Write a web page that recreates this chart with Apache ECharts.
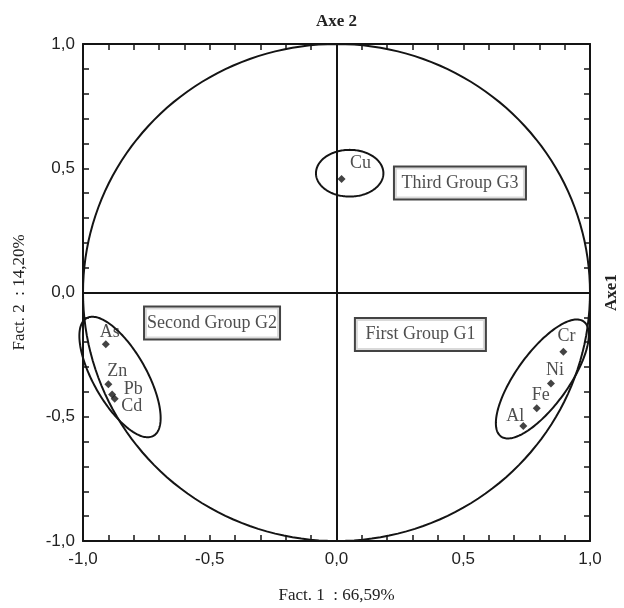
<!DOCTYPE html>
<html><head><meta charset="utf-8">
<script src="https://cdn.jsdelivr.net/npm/echarts@6/dist/echarts.min.js"></script>
<style>html,body{margin:0;padding:0;background:#fff}#c{width:624px;height:608px}</style>
</head><body><div id="c"></div>
<script>
// Variables (loadings on factor 1 and factor 2)
const variables = ['Cu','As','Zn','Pb','Cd','Cr','Ni','Fe','Al'];
const fact1 = [0.02,-0.91,-0.90,-0.885,-0.875,0.895,0.846,0.790,0.737];
const fact2 = [0.457,-0.208,-0.369,-0.41,-0.428,-0.238,-0.366,-0.466,-0.537];
const tickLabels = ['-1,0','-0,5','0,0','0,5','1,0'];
// Group boxes
const groupNames = ['First Group G1','Second Group G2','Third Group G3'];
const groupX = [0.331,-0.491,0.487];
const groupY = [-0.169,-0.123,0.441];
// Group ellipses: centre, semi-axes, rotation (deg)
const ellipseCx = [0.812,-0.854,0.052];
const ellipseCy = [-0.348,-0.340,0.480];
const ellipseA = [0.283,0.271,0.133];
const ellipseB = [0.104,0.105,0.094];
const ellipseAngle = [55,-61,0];

// styling
const labelOffsets = [[19,-16],[4,-12],[9,-13],[21,-5],[17,7],[3,-15],[4,-13],[4,-13],[-8,-10]];
const boxWidths = [129,134,130];

const INK = '#141414';
const TEXT = '#222';
const serif = "'Liberation Serif', 'Times New Roman', serif";
const sans = "'Liberation Sans', Arial, sans-serif";

function ellipseRender(params, api) {
  const cx = api.value(0), cy = api.value(1), a = api.value(2), b = api.value(3);
  const phi = api.value(4) * Math.PI / 180;
  const pts = [];
  const N = 180;
  for (let k = 0; k < N; k++) {
    const t = 2 * Math.PI * k / N;
    const ex = a * Math.cos(t), ey = b * Math.sin(t);
    pts.push(api.coord([cx + ex * Math.cos(phi) - ey * Math.sin(phi), cy + ex * Math.sin(phi) + ey * Math.cos(phi)]));
  }
  return {type: 'polygon', shape: {points: pts}, style: {fill: 'none', stroke: INK, lineWidth: 2}, silent: true};
}

const axisCommon = {
  min: -1, max: 1, interval: 0.5,
  axisLine: {show: true, onZero: false, lineStyle: {color: INK, width: 2}},
  axisTick: {show: true, inside: true, length: 6, lineStyle: {color: INK, width: 1.5}},
  minorTick: {show: true, splitNumber: 5, length: 6, lineStyle: {color: INK, width: 1.5}},
  splitLine: {show: false}
};
const labelCommon = {fontFamily: sans, fontSize: 17, color: TEXT, formatter: (v, i) => tickLabels[i]};

const chart = echarts.init(document.getElementById('c'), null, {renderer: 'canvas'});
chart.setOption({
  animation: false,
  backgroundColor: '#fff',
  grid: {left: 83, right: 34, top: 44, bottom: 67, containLabel: false, outerBoundsMode: 'none'},
  xAxis: [
    Object.assign({}, axisCommon, {type: 'value', position: 'bottom',
      axisLabel: Object.assign({}, labelCommon, {margin: 10}),
      name: 'Fact. 1  : 66,59%', nameLocation: 'middle', nameGap: 46,
      nameTextStyle: {fontFamily: serif, fontSize: 17, color: TEXT}}),
    Object.assign({}, axisCommon, {type: 'value', position: 'top',
      axisLabel: {show: false},
      name: 'Axe 2', nameLocation: 'middle', nameGap: 14,
      nameTextStyle: {fontFamily: serif, fontSize: 17, fontWeight: 'bold', color: TEXT}})
  ],
  yAxis: [
    Object.assign({}, axisCommon, {type: 'value', position: 'left',
      axisLabel: Object.assign({}, labelCommon, {margin: 8}),
      name: 'Fact. 2  : 14,20%', nameLocation: 'middle', nameGap: 55,
      nameTextStyle: {fontFamily: serif, fontSize: 17, color: TEXT}}),
    Object.assign({}, axisCommon, {type: 'value', position: 'right',
      axisLabel: {show: false},
      name: 'Axe1', nameLocation: 'middle', nameGap: 13,
      nameTextStyle: {fontFamily: serif, fontSize: 17, fontWeight: 'bold', color: TEXT}})
  ],
  series: [
    {
      type: 'custom', name: 'circle', renderItem: ellipseRender, clip: false,
      data: [[0, 0, 1, 1, 0]], z: 2
    },
    {
      type: 'custom', name: 'groups', renderItem: ellipseRender, clip: false,
      data: ellipseCx.map((c, i) => [c, ellipseCy[i], ellipseA[i], ellipseB[i], ellipseAngle[i]]), z: 3
    },
    {
      type: 'scatter', name: 'variables', symbol: 'diamond', symbolSize: 8,
      itemStyle: {color: INK}, z: 5,
      data: variables.map((n, i) => ({
        name: n, value: [fact1[i], fact2[i]],
        label: {show: true, position: 'inside', offset: labelOffsets[i], formatter: n,
          fontFamily: serif, fontSize: 18, color: TEXT}
      })),
      markLine: {
        silent: true, symbol: 'none', label: {show: false},
        lineStyle: {color: INK, width: 2, type: 'solid'},
        data: [{xAxis: 0}, {yAxis: 0}]
      }
    },
    {
      type: 'scatter', name: 'groupsLabel', symbolSize: 0, z: 6, silent: true,
      data: groupNames.map((n, i) => ({
        value: [groupX[i], groupY[i]],
        label: {show: true, position: 'inside', formatter: n,
          fontFamily: serif, fontSize: 18, color: TEXT, lineHeight: 20,
          width: boxWidths[i], align: 'center',
          backgroundColor: '#fff', borderColor: INK, borderWidth: 2,
          padding: [6, 0, 5, 0]}
      }))
    }
  ]
});
</script></body></html>
